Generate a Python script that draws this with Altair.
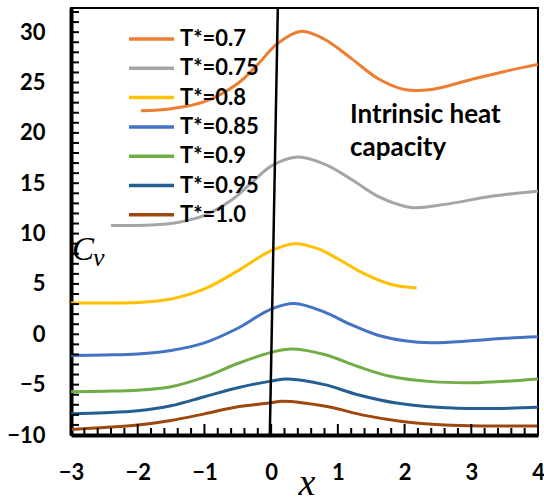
import altair as alt
import pandas as pd
import numpy as np

series_names = ["T*=0.7", "T*=0.75", "T*=0.8", "T*=0.85", "T*=0.9", "T*=0.95", "T*=1.0"]
series_colors = ["#ED7D31", "#A5A5A5", "#FFC000", "#4472C4", "#70AD47", "#255E91", "#9E480E"]

x_07 = [-1.95, -1.5, -1.0, -0.5, -0.2, 0.1, 0.45, 0.8, 1.2, 1.6, 2.0, 2.4, 3.0, 3.5, 4.0]
y_07 = [22.2, 22.4, 23.1, 24.9, 26.8, 28.9, 30.1, 29.3, 27.4, 25.4, 24.3, 24.3, 25.3, 26.1, 26.8]

x_075 = [-2.4, -1.8, -1.4, -1.0, -0.6, -0.3, 0.0, 0.4, 0.8, 1.2, 1.6, 2.1, 2.6, 3.3, 4.0]
y_075 = [10.8, 10.85, 11.1, 11.8, 13.3, 15.0, 16.7, 17.6, 16.9, 15.4, 13.7, 12.6, 12.9, 13.7, 14.2]

x_08 = [-3.0, -2.5, -2.0, -1.5, -1.0, -0.5, 0.0, 0.36, 0.7, 1.0, 1.4, 1.8, 2.18]
y_08 = [3.1, 3.1, 3.15, 3.5, 4.5, 6.3, 8.3, 9.0, 8.5, 7.5, 6.0, 4.95, 4.6]

x_085 = [-3.0, -2.5, -2.0, -1.5, -1.0, -0.5, 0.0, 0.35, 0.8, 1.2, 1.6, 2.0, 2.4, 3.0, 3.5, 4.0]
y_085 = [-2.1, -2.05, -1.95, -1.6, -0.85, 0.6, 2.5, 3.05, 2.2, 0.95, -0.1, -0.65, -0.85, -0.65, -0.4, -0.25]

x_09 = [-3.0, -2.5, -2.0, -1.5, -1.0, -0.5, 0.0, 0.3, 0.8, 1.3, 1.8, 2.4, 3.1, 4.0]
y_09 = [-5.7, -5.65, -5.55, -5.2, -4.25, -2.9, -1.8, -1.45, -2.0, -3.2, -4.2, -4.7, -4.8, -4.45]

x_095 = [-3.0, -2.5, -2.0, -1.5, -1.0, -0.5, 0.0, 0.25, 0.8, 1.3, 1.9, 2.8, 4.0]
y_095 = [-7.9, -7.8, -7.6, -7.1, -6.2, -5.3, -4.65, -4.45, -5.0, -6.0, -6.85, -7.35, -7.25]

x_10 = [-3.0, -2.5, -2.0, -1.5, -1.0, -0.5, 0.0, 0.16, 0.86, 1.36, 1.96, 2.6, 3.2, 4.0]
y_10 = [-9.45, -9.25, -9.0, -8.55, -7.9, -7.2, -6.8, -6.65, -7.2, -8.0, -8.65, -9.0, -9.1, -9.1]

divider_x = [-0.02, 0.10]
divider_y = [-10, 32.4]

x_min, x_max = -3, 4
y_min, y_max = -10, 32.4
x_tick_labels = [-3, -2, -1, 0, 1, 2, 3, 4]
y_tick_labels = [-10, -5, 0, 5, 10, 15, 20, 25, 30]
x_minor_ticks = [round(v, 1) for v in np.arange(-3, 4.001, 0.2)]
y_minor_ticks = list(range(-10, 33))

annotation_lines = ["Intrinsic heat", "capacity"]

all_x = [x_07, x_075, x_08, x_085, x_09, x_095, x_10]
all_y = [y_07, y_075, y_08, y_085, y_09, y_095, y_10]
rows = []
for name, xs, ys in zip(series_names, all_x, all_y):
    for a, b in zip(xs, ys):
        rows.append({"series": name, "x": a, "y": b})
df = pd.DataFrame(rows)

W, H = 467, 427
FONT = "Lato"
xscale = alt.Scale(domain=[x_min, x_max], nice=False, zero=False)
yscale = alt.Scale(domain=[y_min, y_max], nice=False, zero=False)
xaxis = alt.Axis(values=x_tick_labels, title=None, grid=False, ticks=False,
                 domain=True, domainColor="black", domainWidth=4,
                 labelFont=FONT, labelFontSize=22, labelFontWeight="bold", labelColor="black",
                 labelPadding=27, labelFlush=False)
yaxis = alt.Axis(values=y_tick_labels, title=None, grid=False, ticks=False,
                 domain=True, domainColor="black", domainWidth=4,
                 labelFont=FONT, labelFontSize=22, labelFontWeight="bold", labelColor="black",
                 labelPadding=26)


def X(field):
    return alt.X(field, type="quantitative", scale=xscale, axis=xaxis)


def Y(field):
    return alt.Y(field, type="quantitative", scale=yscale, axis=yaxis)


# inward tick marks drawn as short paths
px_x = (x_max - x_min) / W
px_y = (y_max - y_min) / H
trows = []
for i, v in enumerate(y_minor_ticks):
    trows.append({"id": f"y{i}", "x": x_min, "y": v})
    trows.append({"id": f"y{i}", "x": x_min + 8 * px_x, "y": v})
for i, v in enumerate(x_minor_ticks):
    major = abs(v - round(v)) < 1e-6
    ln = 11 if major else 7
    trows.append({"id": f"x{i}", "x": v, "y": y_min})
    trows.append({"id": f"x{i}", "x": v, "y": y_min + ln * px_y})
tdf = pd.DataFrame(trows)
ticks = alt.Chart(tdf).mark_line(color="black", strokeWidth=2, clip=True).encode(
    x=X("x"), y=Y("y"), detail="id:N")

lines = alt.Chart(df).mark_line(strokeWidth=3, interpolate="catmull-rom").encode(
    x=X("x"), y=Y("y"),
    color=alt.Color("series:N", sort=series_names,
                    scale=alt.Scale(domain=series_names, range=series_colors),
                    legend=alt.Legend(orient="none", legendX=56, legendY=21, title=None,
                                      symbolType="stroke", symbolSize=2025, symbolStrokeWidth=3.5,
                                      labelFont=FONT, labelFontSize=22, labelFontWeight="bold",
                                      labelColor="black", labelOffset=4, rowPadding=7.3,
                                      clipHeight=20, padding=0)),
)

vdf = pd.DataFrame({"x": divider_x, "y": divider_y})
divider = alt.Chart(vdf).mark_line(color="black", strokeWidth=2.5, clip=True).encode(x=X("x"), y=Y("y"))

one = pd.DataFrame({"a": [0]})
annot = alt.Chart(one).mark_text(text=annotation_lines, font=FONT, fontSize=26, fontWeight="bold",
                                 align="left", baseline="alphabetic", lineHeight=33, color="black").encode(
    x=alt.value(279), y=alt.value(115))

cv_c = alt.Chart(one).mark_text(text="C", font="Liberation Serif", fontSize=33, fontStyle="italic",
                                align="left", baseline="alphabetic", color="black").encode(
    x=alt.value(1), y=alt.value(252))
cv_v = alt.Chart(one).mark_text(text="v", font="Liberation Serif", fontSize=26, fontStyle="italic",
                                align="left", baseline="alphabetic", color="black").encode(
    x=alt.value(22), y=alt.value(258))
xlab = alt.Chart(one).mark_text(text="x", font="Liberation Serif", fontSize=38, fontStyle="italic",
                                align="center", baseline="alphabetic", color="black").encode(
    x=alt.value(236), y=alt.value(487))

chart = alt.layer(lines, divider, ticks, annot, cv_c, cv_v, xlab).properties(
    width=W, height=H,
    autosize=alt.AutoSizeParams(type="none"),
    padding={"left": 71, "top": 8, "right": 6, "bottom": 67},
    background="white",
).configure_view(stroke="black", strokeWidth=2)

chart.save("out.html", embed_options={"renderer": "svg", "actions": False})
